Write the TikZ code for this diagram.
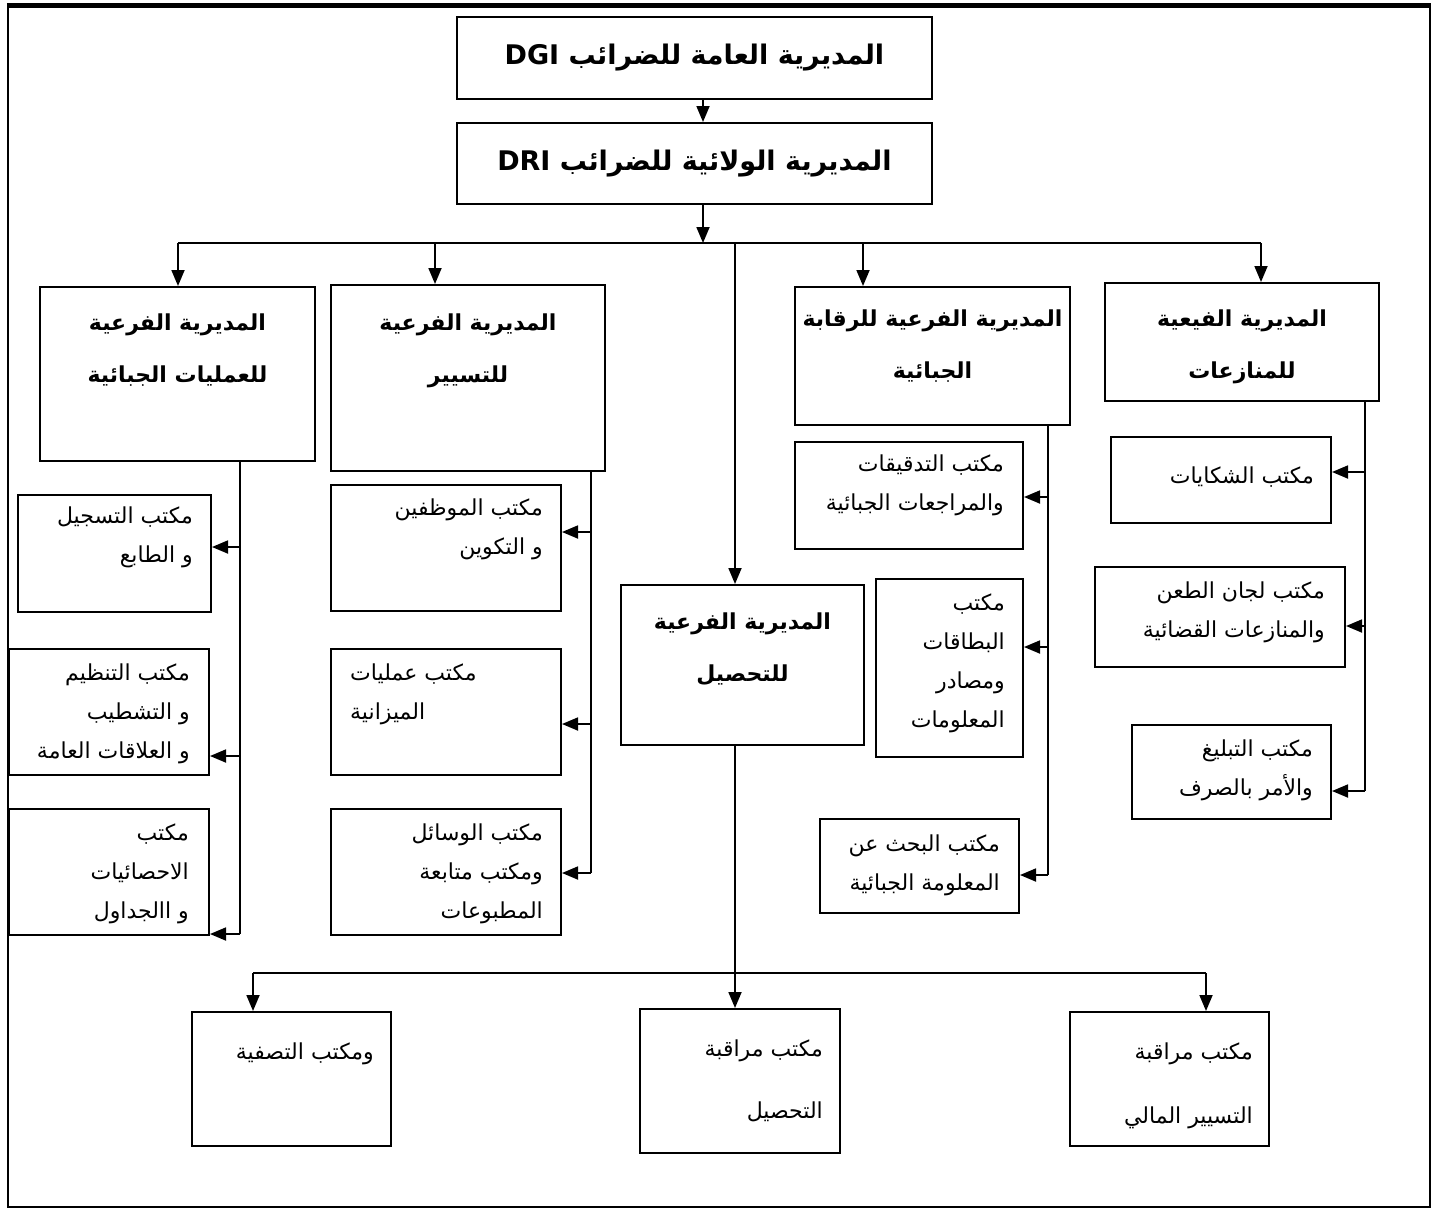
\documentclass[tikz,border=0pt]{standalone}
\usepackage{fontspec}
\usetikzlibrary{arrows.meta, positioning}
\newfontfamily\arabicfont[Script=Arabic]{DejaVu Sans}
\TeXXeTstate=1
\newcommand{\rtl}[1]{\beginR #1\endR}

\begin{document}
\begin{tikzpicture}[x=1pt, y=-1pt]
    \tikzstyle{unit} = [rectangle, draw=black, line width=2pt, inner sep=0pt]
    \tikzstyle{top} = [font=\arabicfont\bfseries\fontsize{27}{40}\selectfont]
    \tikzstyle{head} = [font=\arabicfont\bfseries\fontsize{22}{52}\selectfont, align=center, inner sep=0pt]
    \tikzstyle{txt} = [font=\arabicfont\fontsize{22}{39}\selectfont, align=right, inner sep=0pt]
    \tikzstyle{line} = [line width=1.8pt]
    \tikzstyle{arrow} = [line width=1.8pt, -{Triangle[length=16pt, width=13pt]}]

    \useasboundingbox (0,0) rectangle (1434,1211);
    \draw[line width=2.5pt] (8,5) rectangle (1430,1207);
    \draw[line width=5pt] (6.75,5) -- (1431.25,5);

    % top levels
    \node (dgi) [unit, top, minimum width=475, minimum height=82] at (694.5,58) {\rtl{المديرية العامة للضرائب \beginL DGI\endL}};
    \node (dri) [unit, top, minimum width=475, minimum height=81] at (694.5,163.5) {\rtl{المديرية الولائية للضرائب \beginL DRI\endL}};

    % sub-directorates
    \node (amaliyat) [unit, minimum width=275, minimum height=174] at (177.5,374) {};
    \node (tasyir) [unit, minimum width=274, minimum height=186] at (468,378) {};
    \node (tahsil) [unit, minimum width=243, minimum height=160] at (742.5,665) {};
    \node (raqaba) [unit, minimum width=275, minimum height=138] at (932.5,356) {};
    \node (munazaat) [unit, minimum width=274, minimum height=118] at (1242,342) {};

    \node (amaliyatT) [head] at ([yshift=-64.5]amaliyat.north) {\rtl{المديرية الفرعية}\\ \rtl{للعمليات الجبائية}};
    \node (tasyirT) [head] at ([yshift=-66.5]tasyir.north) {\rtl{المديرية الفرعية}\\ \rtl{للتسيير}};
    \node (tahsilT) [head] at ([yshift=-65]tahsil.north) {\rtl{المديرية الفرعية}\\ \rtl{للتحصيل}};
    \node (raqabaT) [head] at ([yshift=-60.5]raqaba.north) {\rtl{المديرية الفرعية للرقابة}\\ \rtl{الجبائية}};
    \node (munazaatT) [head] at ([yshift=-64.5]munazaat.north) {\rtl{المديرية الفيعية}\\ \rtl{للمنازعات}};

    % offices
    \node (tasjil) [unit, minimum width=193, minimum height=117] at (114.5,553.5) {};
    \node (tanzim) [unit, minimum width=200, minimum height=126] at (109,712) {};
    \node (ihsa) [unit, minimum width=200, minimum height=126] at (109,872) {};
    \node (muwazafin) [unit, minimum width=230, minimum height=126] at (446,548) {};
    \node (mizaniya) [unit, minimum width=230, minimum height=126] at (446,712) {};
    \node (wasail) [unit, minimum width=230, minimum height=126] at (446,872) {};
    \node (tadqiq) [unit, minimum width=228, minimum height=107] at (909,495.5) {};
    \node (bitaqat) [unit, minimum width=147, minimum height=178] at (949.5,668) {};
    \node (bahth) [unit, minimum width=199, minimum height=94] at (919.5,866) {};
    \node (shakawa) [unit, minimum width=220, minimum height=86] at (1221,480) {};
    \node (lijan) [unit, minimum width=250, minimum height=100] at (1220,617) {};
    \node (tabligh) [unit, minimum width=199, minimum height=94] at (1231.5,772) {};
    \node (tasfiya) [unit, minimum width=199, minimum height=134] at (291.5,1079) {};
    \node (muraqaba) [unit, minimum width=200, minimum height=144] at (740,1081) {};
    \node (maliya) [unit, minimum width=199, minimum height=134] at (1169.5,1079) {};

    \node (tasjilT) [txt, below left=13pt and 19pt of tasjil.north east] {\rtl{مكتب التسجيل}\\ \rtl{و الطابع}};
    \node (tanzimT) [txt, below left=16pt and 20pt of tanzim.north east] {\rtl{مكتب التنظيم}\\ \rtl{و التشطيب}\\ \rtl{و العلاقات العامة}};
    \node (ihsaT) [txt, below left=16pt and 21pt of ihsa.north east] {\rtl{مكتب}\\ \rtl{الاحصائيات}\\ \rtl{و االجداول}};
    \node (muwazafinT) [txt, below left=15pt and 19pt of muwazafin.north east] {\rtl{مكتب الموظفين}\\ \rtl{و التكوين}};
    \node (mizaniyaT) [txt, align=left, below right=16pt and 20pt of mizaniya.north west] {\rtl{مكتب عمليات}\\ \rtl{الميزانية}};
    \node (wasailT) [txt, below left=16pt and 19pt of wasail.north east] {\rtl{مكتب الوسائل}\\ \rtl{ومكتب متابعة}\\ \rtl{المطبوعات}};
    \node (tadqiqT) [txt, below left=14pt and 20pt of tadqiq.north east] {\rtl{مكتب التدقيقات}\\ \rtl{والمراجعات الجبائية}};
    \node (bitaqatT) [txt, below left=16pt and 19pt of bitaqat.north east] {\rtl{مكتب}\\ \rtl{البطاقات}\\ \rtl{ومصادر}\\ \rtl{المعلومات}};
    \node (bahthT) [txt, below left=17pt and 20pt of bahth.north east] {\rtl{مكتب البحث عن}\\ \rtl{المعلومة الجبائية}};
    \node (shakawaT) [txt, below left=31pt and 18pt of shakawa.north east] {\rtl{مكتب الشكايات}};
    \node (lijanT) [txt, below left=16pt and 21pt of lijan.north east] {\rtl{مكتب لجان الطعن}\\ \rtl{والمنازعات القضائية}};
    \node (tablighT) [txt, below left=16pt and 19pt of tabligh.north east] {\rtl{مكتب التبليغ}\\ \rtl{والأمر بالصرف}};
    \node (tasfiyaT) [txt, below left=32pt and 18pt of tasfiya.north east] {\rtl{ومكتب التصفية}};
    \node (muraqabaT) [txt, font=\arabicfont\fontsize{22}{62}\selectfont, below left=32pt and 18pt of muraqaba.north east] {\rtl{مكتب مراقبة}\\ \rtl{التحصيل}};
    \node (maliyaT) [txt, font=\arabicfont\fontsize{22}{64}\selectfont, below left=32pt and 17pt of maliya.north east] {\rtl{مكتب مراقبة}\\ \rtl{التسيير المالي}};

    % bus points
    \coordinate (hub) at (703,243);
    \coordinate (d1) at (178,243);
    \coordinate (d2) at (435,243);
    \coordinate (d3) at (735,243);
    \coordinate (d4) at (863,243);
    \coordinate (d5) at (1261,243);
    \coordinate (a0) at (240,461);
    \coordinate (a1) at (240,547);
    \coordinate (a2) at (240,756);
    \coordinate (a3) at (240,934);
    \coordinate (t0) at (591,471);
    \coordinate (t1) at (591,532);
    \coordinate (t2) at (591,724);
    \coordinate (t3) at (591,873);
    \coordinate (r0) at (1048,425);
    \coordinate (r1) at (1048,497);
    \coordinate (r2) at (1048,647);
    \coordinate (r3) at (1048,875);
    \coordinate (m0) at (1365,401);
    \coordinate (m1) at (1365,472);
    \coordinate (m2) at (1365,626);
    \coordinate (m3) at (1365,791);
    \coordinate (c0) at (735,745);
    \coordinate (e1) at (253,973);
    \coordinate (e3) at (1206,973);

    \draw [arrow] ([xshift=8.5]dgi.south) -- ([xshift=8.5]dri.north);
    \draw [arrow] ([xshift=8.5]dri.south) -- (hub);
    \draw [line] (d1) -- (d5);
    \draw [arrow] (d1) -- (d1 |- amaliyat.north);
    \draw [arrow] (d2) -- (d2 |- tasyir.north);
    \draw [arrow] (d3) -- (d3 |- tahsil.north);
    \draw [arrow] (d4) -- (d4 |- raqaba.north);
    \draw [arrow] (d5) -- (d5 |- munazaat.north);

    \draw [line] (a0) -- (a3);
    \draw [line] (t0) -- (t3);
    \draw [line] (r0) -- (r3);
    \draw [line] (m0) -- (m3);
    \foreach \p/\b in {a1/tasjil, a2/tanzim, a3/ihsa, t1/muwazafin, t2/mizaniya, t3/wasail,
        r1/tadqiq, r2/bitaqat, r3/bahth, m1/shakawa, m2/lijan, m3/tabligh}
        \draw [arrow] (\p) -- (\p -| \b.east);

    \draw [arrow] (c0) -- (c0 |- muraqaba.north);
    \draw [line] (e1) -- (e3);
    \draw [arrow] (e1) -- (e1 |- tasfiya.north);
    \draw [arrow] (e3) -- (e3 |- maliya.north);
\end{tikzpicture}
\end{document}
